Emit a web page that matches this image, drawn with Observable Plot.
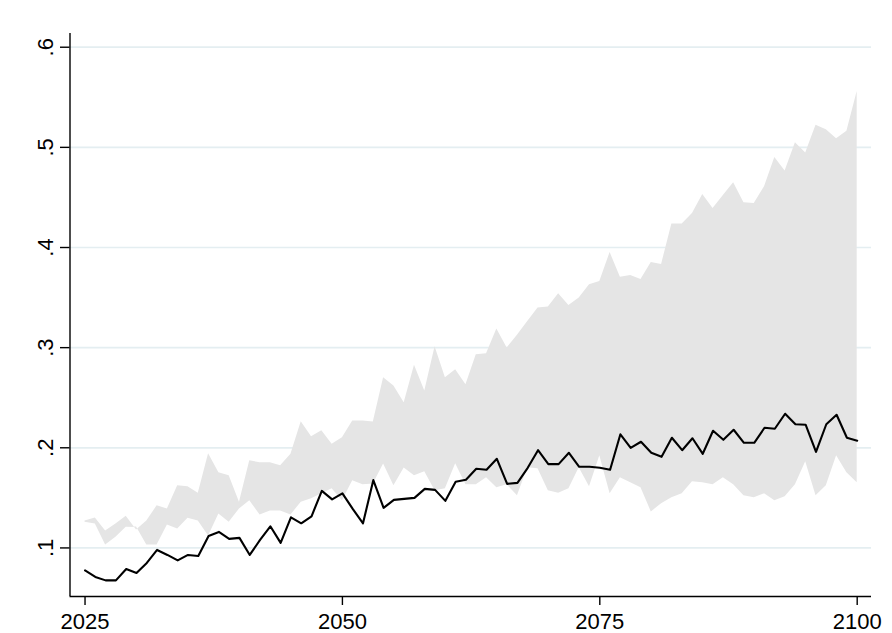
<!DOCTYPE html>
<html>
<head>
<meta charset="utf-8">
<script src="https://cdn.jsdelivr.net/npm/d3@7"></script>
<script src="https://cdn.jsdelivr.net/npm/@observablehq/plot@0.6"></script>
<style>
  html, body { margin: 0; padding: 0; background: #ffffff; }
  #chart { width: 892px; height: 633px; }
</style>
</head>
<body>
<div id="chart"></div>
<script>
const years = [
  2025, 2026, 2027, 2028, 2029, 2030, 2031, 2032, 2033, 2034,
  2035, 2036, 2037, 2038, 2039, 2040, 2041, 2042, 2043, 2044,
  2045, 2046, 2047, 2048, 2049, 2050, 2051, 2052, 2053, 2054,
  2055, 2056, 2057, 2058, 2059, 2060, 2061, 2062, 2063, 2064,
  2065, 2066, 2067, 2068, 2069, 2070, 2071, 2072, 2073, 2074,
  2075, 2076, 2077, 2078, 2079, 2080, 2081, 2082, 2083, 2084,
  2085, 2086, 2087, 2088, 2089, 2090, 2091, 2092, 2093, 2094,
  2095, 2096, 2097, 2098, 2099, 2100
];

const meanValues = [
  0.0775, 0.071, 0.0676, 0.0676, 0.079, 0.075, 0.085, 0.098, 0.093, 0.0875,
  0.093, 0.092, 0.112, 0.116, 0.109, 0.110, 0.093, 0.108, 0.1216, 0.105,
  0.1306, 0.1246, 0.1316, 0.157, 0.1485, 0.1545, 0.139, 0.1246, 0.1677, 0.140,
  0.148, 0.149, 0.150, 0.159, 0.158, 0.147, 0.166, 0.168, 0.179, 0.178,
  0.189, 0.164, 0.165, 0.180, 0.1976, 0.1837, 0.1837, 0.195, 0.181, 0.181,
  0.180, 0.178, 0.2135, 0.200, 0.206, 0.195, 0.191, 0.210, 0.1976, 0.2095,
  0.194, 0.217, 0.208, 0.218, 0.205, 0.205, 0.220, 0.219, 0.234, 0.2235,
  0.223, 0.196, 0.2235, 0.233, 0.210, 0.207
];

const upperValues = [
  0.127, 0.130, 0.117, 0.124, 0.1316, 0.118, 0.127, 0.142, 0.139, 0.162,
  0.161, 0.1545, 0.194, 0.175, 0.172, 0.1455, 0.187, 0.185, 0.185, 0.182,
  0.1936, 0.226, 0.211, 0.217, 0.2035, 0.210, 0.2268, 0.2268, 0.2258, 0.270,
  0.2616, 0.245, 0.2825, 0.2566, 0.301, 0.270, 0.278, 0.263, 0.293, 0.294,
  0.3186, 0.2997, 0.3123, 0.326, 0.3395, 0.3405, 0.3538, 0.342, 0.3495, 0.3628,
  0.366, 0.395, 0.3704, 0.372, 0.368, 0.385, 0.383, 0.4235, 0.4235, 0.434,
  0.453, 0.439, 0.452, 0.4646, 0.4447, 0.444, 0.4606, 0.4898, 0.4765, 0.5047,
  0.4944, 0.522, 0.5177, 0.5087, 0.516, 0.5558
];

const lowerValues = [
  0.1256, 0.124, 0.103, 0.1107, 0.1206, 0.121, 0.103, 0.103, 0.123, 0.119,
  0.1296, 0.127, 0.112, 0.134, 0.1256, 0.139, 0.147, 0.133, 0.137, 0.137,
  0.133, 0.1455, 0.149, 0.154, 0.159, 0.147, 0.167, 0.163, 0.1638, 0.1837,
  0.162, 0.1797, 0.172, 0.176, 0.157, 0.159, 0.184, 0.163, 0.163, 0.170,
  0.160, 0.163, 0.152, 0.180, 0.179, 0.157, 0.1545, 0.159, 0.180, 0.161,
  0.192, 0.154, 0.170, 0.165, 0.160, 0.136, 0.144, 0.150, 0.154, 0.166,
  0.165, 0.163, 0.170, 0.163, 0.152, 0.150, 0.154, 0.147, 0.151, 0.163,
  0.186, 0.152, 0.162, 0.192, 0.175, 0.165
];

const xTicks = [2025, 2050, 2075, 2100];
const xTickLabels = ["2025", "2050", "2075", "2100"];
const yTicks = [0.1, 0.2, 0.3, 0.4, 0.5, 0.6];
const yTickLabels = [".1", ".2", ".3", ".4", ".5", ".6"];

const data = years.map((year, i) => ({
  year,
  mean: meanValues[i],
  upper: upperValues[i],
  lower: lowerValues[i]
}));

const xDomain = [2023.54, 2101.39];
const yDomain = [0.0515, 0.6137];
const font = "'Liberation Sans', Arial, Helvetica, sans-serif";

const chart = Plot.plot({
  width: 892,
  height: 633,
  marginLeft: 69.5,
  marginRight: 21,
  marginTop: 33,
  marginBottom: 37,
  style: { fontFamily: font, fontSize: "22px", background: "#ffffff", color: "#000000" },
  x: { domain: xDomain },
  y: { domain: yDomain },
  marks: [
    Plot.ruleY(yTicks, { stroke: "#e4eef1", strokeWidth: 1.7 }),
    Plot.areaY(data, { x: "year", y1: "lower", y2: "upper", fill: "#e5e5e5", curve: "linear" }),
    Plot.lineY(data, { x: "year", y: "mean", stroke: "#000000", strokeWidth: 2.1, curve: "linear" }),
    Plot.axisX({
      ticks: xTicks,
      tickFormat: (d) => xTickLabels[xTicks.indexOf(d)],
      tickSize: 9,
      tickPadding: 8,
      label: null,
      fontSize: 22,
      strokeWidth: 1.4
    }),
    Plot.axisY({
      ticks: yTicks,
      tickFormat: () => "",
      tickSize: 9.5,
      label: null,
      strokeWidth: 1.4
    }),
    Plot.text(yTicks, {
      x: xDomain[0],
      y: (d) => d,
      text: (d, i) => yTickLabels[i],
      rotate: -90,
      dx: -23.7,
      fontSize: 22,
      textAnchor: "middle",
      fill: "#000000"
    }),
    Plot.ruleX([xDomain[0]], { stroke: "#000000", strokeWidth: 1.4 }),
    Plot.ruleY([yDomain[0]], { stroke: "#000000", strokeWidth: 1.4 })
  ]
});

document.getElementById("chart").appendChild(chart);
</script>
</body>
</html>
